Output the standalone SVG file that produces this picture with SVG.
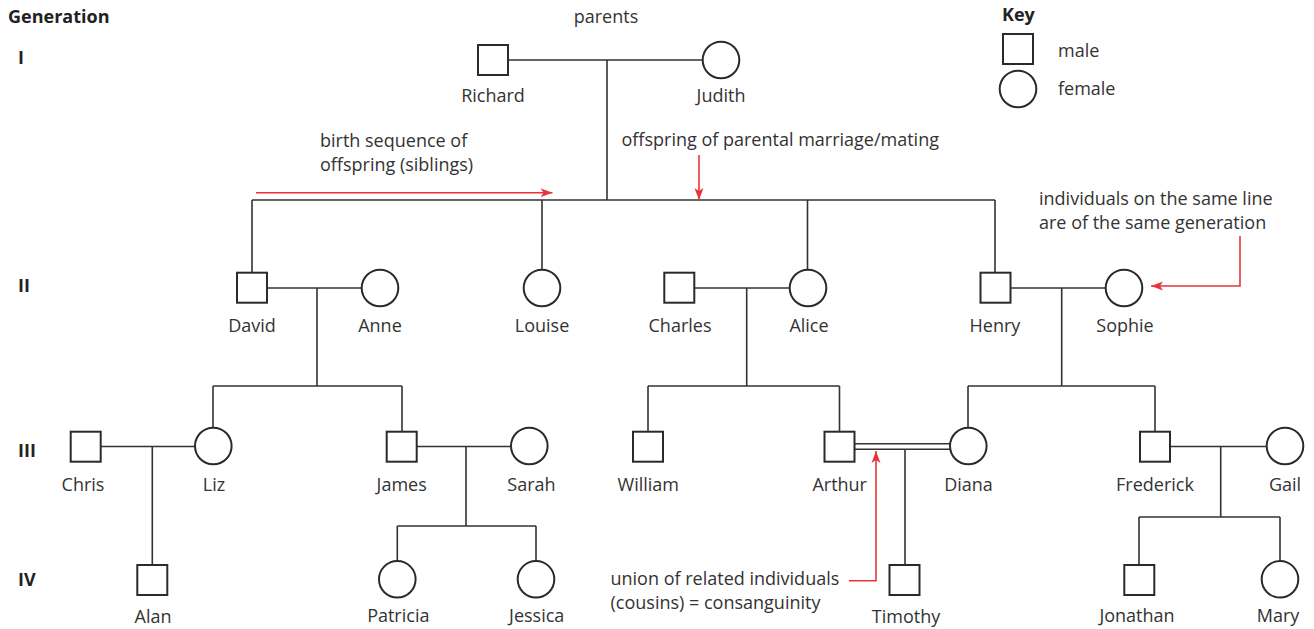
<svg xmlns="http://www.w3.org/2000/svg" width="1314" height="629" viewBox="0 0 1314 629">
<style>
text{font-family:"Open Sans","Liberation Sans",sans-serif;font-size:18px;fill:#333}
.b{font-weight:bold;fill:#222}
.c{text-anchor:middle}
.sym{fill:#fff;stroke:#2a2a2a;stroke-width:2}
.ln{fill:none;stroke:#333;stroke-width:1.6}
.red{fill:none;stroke:#e8353b;stroke-width:1.6}
</style>
<defs>
<marker id="ah" markerUnits="userSpaceOnUse" markerWidth="14" markerHeight="10" refX="12" refY="5" orient="auto">
<path d="M0,0.5 L12,5 L0,9.5 L3,5 z" fill="#e8353b"/>
</marker>
</defs>
<rect width="1314" height="629" fill="#fff"/>

<g id="generation-labels">
<text class="b" x="8" y="23">Generation</text>
<text class="b" x="18" y="64">I</text>
<text class="b" x="18" y="292">II</text>
<text class="b" x="18" y="457">III</text>
<text class="b" x="18" y="586">IV</text>
</g>

<g id="key">
<text class="b" x="1002" y="21">Key</text>
<rect class="sym" x="1003" y="34" width="30" height="30"/>
<text x="1058" y="57">male</text>
<circle class="sym" cx="1018" cy="89" r="18.3"/>
<text x="1058" y="95">female</text>
</g>

<g id="connectors">
<!-- Gen I -->
<path class="ln" d="M508,60 H703 M607,60 V200 M252,200 H995 M252,200 V272 M542,200 V269.7 M807.5,200 V269.7 M995,200 V272"/>
<!-- David-Anne -->
<path class="ln" d="M267,288 H361.7 M317,288 V386 M213,386 H402 M213,386 V427.7 M402,386 V431.7"/>
<!-- Charles-Alice -->
<path class="ln" d="M694,288 H789.7 M746.7,288 V386 M648,386 H839.5 M648,386 V431.7 M839.5,386 V431.7"/>
<!-- Henry-Sophie -->
<path class="ln" d="M1010,288 H1105.7 M1061.7,288 V386 M968,386 H1155 M968,386 V427.7 M1155,386 V431.7"/>
<!-- Chris-Liz -->
<path class="ln" d="M100.7,446.5 H195 M152.3,446.5 V565"/>
<!-- James-Sarah -->
<path class="ln" d="M416.7,446.5 H511 M466,446.5 V526 M397.3,526 H536 M397.3,526 V561 M536,526 V561"/>
<!-- Arthur-Diana consanguineous -->
<path class="ln" d="M854.5,443.8 H950 M854.5,449.2 H950 M905,449.2 V565"/>
<!-- Frederick-Gail -->
<path class="ln" d="M1170,446.5 H1266.7 M1220.7,446.5 V517 M1139,517 H1280 M1139,517 V565 M1280,517 V561"/>
</g>

<g id="annotations">
<text class="c" x="606" y="23">parents</text>
<text x="320" y="147">birth sequence of</text>
<text x="320" y="171">offspring (siblings)</text>
<path class="red" d="M256,192.7 H552.5" marker-end="url(#ah)"/>
<text x="621.5" y="146">offspring of parental marriage/mating</text>
<path class="red" d="M699,155 V200" marker-end="url(#ah)"/>
<text x="1039" y="205">individuals on the same line</text>
<text x="1039" y="229">are of the same generation</text>
<path class="red" d="M1240,236 V286 H1151" marker-end="url(#ah)"/>
<text x="610.5" y="585">union of related individuals</text>
<text x="610.5" y="609">(cousins) = consanguinity</text>
<path class="red" d="M849,580.7 H876 V451" marker-end="url(#ah)"/>
</g>

<g id="richard"><rect class="sym" x="478" y="45" width="30" height="30"/><text class="c" x="493" y="102">Richard</text></g>
<g id="judith"><circle class="sym" cx="721" cy="60" r="18.3"/><text class="c" x="721" y="102">Judith</text></g>

<g id="david"><rect class="sym" x="237" y="272.7" width="30" height="30"/><text class="c" x="252" y="332">David</text></g>
<g id="anne"><circle class="sym" cx="380" cy="288" r="18.3"/><text class="c" x="380" y="332">Anne</text></g>
<g id="louise"><circle class="sym" cx="542" cy="288" r="18.3"/><text class="c" x="542" y="332">Louise</text></g>
<g id="charles"><rect class="sym" x="664.3" y="272.7" width="30" height="30"/><text class="c" x="680" y="332">Charles</text></g>
<g id="alice"><circle class="sym" cx="808" cy="288" r="18.3"/><text class="c" x="809" y="332">Alice</text></g>
<g id="henry"><rect class="sym" x="980.5" y="272.7" width="30" height="30"/><text class="c" x="995" y="332">Henry</text></g>
<g id="sophie"><circle class="sym" cx="1124" cy="288" r="18.3"/><text class="c" x="1125" y="332">Sophie</text></g>

<g id="chris"><rect class="sym" x="70.7" y="431.7" width="30" height="30"/><text class="c" x="83" y="490.5">Chris</text></g>
<g id="liz"><circle class="sym" cx="213.3" cy="446" r="18.3"/><text class="c" x="214" y="490.5">Liz</text></g>
<g id="james"><rect class="sym" x="386.7" y="431.7" width="30" height="30"/><text class="c" x="401.7" y="490.5">James</text></g>
<g id="sarah"><circle class="sym" cx="529.3" cy="446" r="18.3"/><text class="c" x="531.5" y="490.5">Sarah</text></g>
<g id="william"><rect class="sym" x="633" y="431.7" width="30" height="30"/><text class="c" x="648.3" y="490.5">William</text></g>
<g id="arthur"><rect class="sym" x="824.5" y="431.7" width="30" height="30"/><text class="c" x="839.7" y="490.5">Arthur</text></g>
<g id="diana"><circle class="sym" cx="968.3" cy="446" r="18.3"/><text class="c" x="968.5" y="490.5">Diana</text></g>
<g id="frederick"><rect class="sym" x="1140" y="431.7" width="30" height="30"/><text class="c" x="1155" y="490.5">Frederick</text></g>
<g id="gail"><circle class="sym" cx="1285" cy="446" r="18.3"/><text class="c" x="1285" y="490.5">Gail</text></g>

<g id="alan"><rect class="sym" x="137.3" y="565" width="30" height="30"/><text class="c" x="153" y="622.5">Alan</text></g>
<g id="patricia"><circle class="sym" cx="397.3" cy="579.3" r="18.3"/><text class="c" x="398.3" y="622">Patricia</text></g>
<g id="jessica"><circle class="sym" cx="536" cy="579.3" r="18.3"/><text class="c" x="536.7" y="622">Jessica</text></g>
<g id="timothy"><rect class="sym" x="889.5" y="565" width="30" height="30"/><text class="c" x="906" y="622.5">Timothy</text></g>
<g id="jonathan"><rect class="sym" x="1124.3" y="565" width="30" height="30"/><text class="c" x="1137" y="622">Jonathan</text></g>
<g id="mary"><circle class="sym" cx="1280" cy="579.3" r="18.3"/><text class="c" x="1278" y="622">Mary</text></g>
</svg>
